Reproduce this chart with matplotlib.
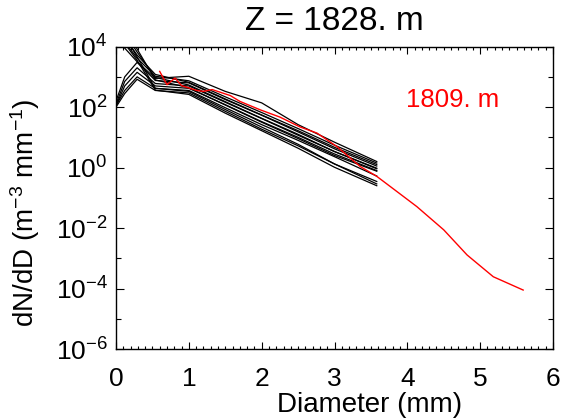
import numpy as np
import matplotlib
matplotlib.use('Agg')
import matplotlib.pyplot as plt
from matplotlib.ticker import FixedLocator, FixedFormatter, MultipleLocator

plt.rcParams['font.family'] = ['Liberation Sans', 'DejaVu Sans']
plt.rcParams['mathtext.fontset'] = 'custom'
plt.rcParams['mathtext.rm'] = 'Liberation Sans'
plt.rcParams['mathtext.it'] = 'Liberation Sans:italic'
plt.rcParams['mathtext.bf'] = 'Liberation Sans:bold'

# Size distributions at Z = 1828 m (black) and reference level 1809 m (red)
# values are log10(dN/dD)
d_black = [0.0, 0.12, 0.29, 0.54, 1.0, 1.5, 2.0, 2.5, 3.0, 3.58]
black_logn = [
    [2.05, 2.55, 3.00, 2.62, 2.55, 1.98, 1.42, 0.90, 0.36, -0.28],
    [2.05, 2.70, 3.15, 2.70, 2.62, 2.08, 1.52, 1.00, 0.45, -0.10],
    [2.10, 2.85, 3.30, 2.78, 2.70, 2.16, 1.62, 1.07, 0.53, -0.04],
    [2.00, 2.45, 2.92, 2.55, 2.47, 1.86, 1.27, 0.72, 0.12, -0.46],
    [2.20, 3.00, 3.48, 2.88, 2.80, 2.25, 1.73, 1.18, 0.62, 0.05],
    [4.60, 3.95, 3.50, 2.95, 3.02, 2.52, 2.14, 1.42, 0.84, 0.20],
    [4.90, 4.15, 3.62, 3.02, 2.87, 2.34, 1.82, 1.29, 0.74, 0.15],
    [5.10, 4.30, 3.72, 3.08, 2.82, 2.27, 1.74, 1.22, 0.67, 0.10],
    [5.30, 4.45, 3.82, 2.98, 2.73, 2.18, 1.63, 1.10, 0.53, -0.02],
    [5.50, 4.60, 3.92, 2.90, 2.64, 2.07, 1.50, 0.96, 0.40, -0.12],
    [5.20, 4.35, 3.66, 2.62, 2.52, 1.92, 1.34, 0.77, 0.12, -0.54],
    [4.80, 4.10, 3.55, 2.56, 2.42, 1.80, 1.22, 0.64, 0.01, -0.60],
]

d_red = [0.60, 0.70, 0.81, 0.90, 1.11, 1.20, 1.32, 1.57, 1.70, 1.98, 2.25,
         2.53, 2.76, 3.03, 3.35, 3.58, 3.85, 4.13, 4.50, 4.82, 5.18, 5.59]
red_logn = [3.18, 2.74, 2.96, 2.71, 2.55, 2.52, 2.58, 2.38, 2.19, 1.91, 1.67,
            1.34, 1.14, 0.70, 0.04, -0.29, -0.78, -1.29, -2.06, -2.89, -3.61, -4.05]

title = 'Z = 1828. m'
red_label = '1809. m'
ytick_vals = [1e-6, 1e-4, 1e-2, 1e0, 1e2, 1e4]
ytick_labels = [r'10$^{\mathregular{-6}}$', r'10$^{\mathregular{-4}}$', r'10$^{\mathregular{-2}}$',
                r'10$^{\mathregular{0}}$', r'10$^{\mathregular{2}}$', r'10$^{\mathregular{4}}$']

fig = plt.figure(figsize=(5.65, 4.2), dpi=100)
ax = fig.add_axes([0.2053, 0.169, 0.7735, 0.72])

for row in black_logn:
    ax.plot(d_black, 10 ** np.array(row), color='black', lw=0.9)
ax.plot(d_red, 10 ** np.array(red_logn), color='red', lw=1.0)

ax.set_yscale('log')
ax.set_xlim(0, 6)
ax.set_ylim(1e-6, 1e4)

ax.yaxis.set_major_locator(FixedLocator(ytick_vals))
ax.yaxis.set_major_formatter(FixedFormatter(ytick_labels))
ax.yaxis.set_minor_locator(FixedLocator([10.0 ** k for k in range(-5, 4, 2)]))
ax.yaxis.set_minor_formatter(FixedFormatter([]))
ax.xaxis.set_major_locator(MultipleLocator(1))
ax.xaxis.set_minor_locator(MultipleLocator(0.1))

ax.tick_params(which='both', direction='in', top=True, right=True, labelsize=19)
ax.tick_params(axis='x', which='major', length=5, width=0.8, pad=13)
ax.tick_params(axis='x', which='minor', length=2.5, width=0.8)
ax.tick_params(axis='y', which='major', length=6, width=0.8, pad=6)
ax.tick_params(axis='y', which='minor', length=3.5, width=0.8)
for s in ax.spines.values():
    s.set_linewidth(1.0)

ax.set_title(title, fontsize=24, pad=12)
ax.set_xlabel('Diameter (mm)', fontsize=20)
ax.xaxis.set_label_coords(0.58, -0.142)
ax.set_ylabel(r'dN/dD (m$^{\mathregular{-3}}$ mm$^{\mathregular{-1}}$)', fontsize=20)
ax.yaxis.set_label_coords(-0.17, 0.45)

ax.text(3.98, 10 ** 2.25, red_label, color='red', fontsize=18.5, va='center', ha='left')

fig.savefig('out.png', dpi=100)
